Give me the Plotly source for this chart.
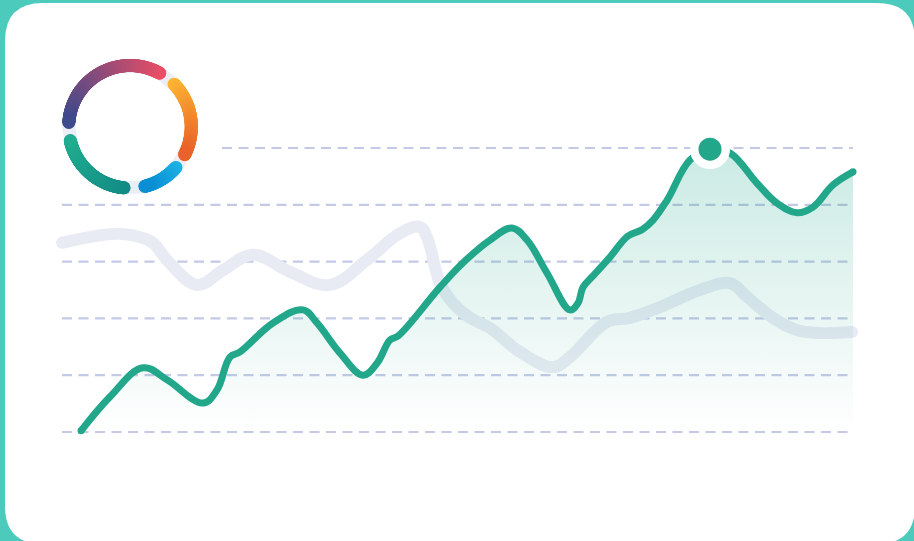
import numpy as np
import plotly.graph_objects as go

# ---------------- data ----------------
green_x = [0.13, 3.88, 8.15, 11.25, 15.91, 17.72, 19.40, 20.70, 24.97, 28.85, 30.66, 33.64,
           36.61, 38.42, 40.10, 41.14, 46.57, 49.55, 53.04, 55.89, 57.83, 60.41, 63.39, 64.42,
           65.07, 66.24, 68.56, 70.89, 72.70, 74.13, 75.94, 78.91, 81.50, 84.09, 87.58, 90.17,
           92.76, 94.83, 97.41, 100.0]
green_y = [0.02, 0.62, 1.13, 0.92, 0.51, 0.74, 1.32, 1.41, 1.92, 2.15, 1.92, 1.39,
           1.00, 1.21, 1.62, 1.69, 2.55, 2.98, 3.38, 3.59, 3.38, 2.80, 2.15, 2.27,
           2.55, 2.73, 3.08, 3.45, 3.56, 3.73, 4.08, 4.79, 4.98, 4.91, 4.38, 4.03,
           3.86, 3.96, 4.35, 4.58]
peak_x = [81.5]
peak_y = [4.98]

gray_x = [-2.33, 4.79, 7.76, 9.44, 11.25, 15.14, 18.50, 22.38, 27.17, 32.34, 37.13, 41.40,
          43.98, 44.89, 46.57, 48.25, 50.45, 53.04, 56.92, 61.19, 63.39, 68.18, 71.15, 75.03,
          80.21, 84.09, 86.29, 89.65, 93.14, 99.87]
gray_y = [3.33, 3.49, 3.43, 3.33, 3.03, 2.59, 2.85, 3.12, 2.82, 2.59, 3.03, 3.50,
          3.61, 3.43, 2.62, 2.27, 2.01, 1.83, 1.41, 1.14, 1.32, 1.94, 2.01, 2.20,
          2.50, 2.62, 2.38, 2.01, 1.78, 1.76]

grid_levels = [0, 1, 2, 3, 4, 5]

donut_from_deg = [61, 44, -41.5, 264.5]
donut_to_deg = [176, -27, -76, 193]
donut_color_from = ['#ef4f65', '#fdb634', '#1fb3e4', '#128b84']
donut_color_to = ['#3e4b8c', '#e9622a', '#0a8ed4', '#21ab8f']

# ---------------- style / layout ----------------
W, H = 914, 541
TEAL_BG = '#4ccbbd'
GREEN = '#22a78b'
GRAY_LINE = '#e8ebf4'
GRID = '#c4c9e6'
SMOOTH = 1.1

X_RANGE = [-10.35, 107.89]
Y_RANGE = [-1.919, 7.606]

fig = go.Figure()

# gray line
fig.add_trace(go.Scatter(x=gray_x, y=gray_y, mode='lines',
                         line=dict(color=GRAY_LINE, width=12, shape='spline', smoothing=SMOOTH),
                         hoverinfo='skip', showlegend=False))
fig.add_trace(go.Scatter(x=[gray_x[0], gray_x[-1]], y=[gray_y[0], gray_y[-1]], mode='markers',
                         marker=dict(color=GRAY_LINE, size=12, line=dict(width=0)),
                         hoverinfo='skip', showlegend=False))

# gradient fill under green line
fig.add_trace(go.Scatter(x=green_x, y=green_y, mode='lines', fill='tozeroy',
                         line=dict(color='rgba(0,0,0,0)', width=0, shape='spline', smoothing=SMOOTH),
                         fillgradient=dict(type='vertical', start=0, stop=5,
                                           colorscale=[[0, 'rgba(34,167,139,0.0)'],
                                                       [1, 'rgba(34,167,139,0.24)']]),
                         hoverinfo='skip', showlegend=False))

# green line
fig.add_trace(go.Scatter(x=green_x, y=green_y, mode='lines',
                         line=dict(color=GREEN, width=7, shape='spline', smoothing=SMOOTH),
                         hoverinfo='skip', showlegend=False))
fig.add_trace(go.Scatter(x=[green_x[0], green_x[-1]], y=[green_y[0], green_y[-1]], mode='markers',
                         marker=dict(color=GREEN, size=7, line=dict(width=0)),
                         hoverinfo='skip', showlegend=False))

# peak marker
fig.add_trace(go.Scatter(x=peak_x, y=peak_y, mode='markers', cliponaxis=False,
                         marker=dict(color=GREEN, size=31.5, line=dict(color='white', width=8.5)),
                         hoverinfo='skip', showlegend=False))

# ---------------- donut ----------------
R = 61.3
RING_W = 13


def hex2rgb(h):
    h = h.lstrip('#')
    return [int(h[i:i + 2], 16) for i in (0, 2, 4)]


t = np.linspace(0, 2 * np.pi, 361)
fig.add_trace(go.Scatter(x=R * np.cos(t), y=R * np.sin(t), mode='lines', xaxis='x2', yaxis='y2',
                         line=dict(color='#eceef5', width=RING_W),
                         hoverinfo='skip', showlegend=False))

for a0, a1, c0, c1 in zip(donut_from_deg, donut_to_deg, donut_color_from, donut_color_to):
    n = int(abs(a1 - a0) * 2) + 2
    ang = np.radians(np.linspace(a0, a1, n))
    f = np.linspace(0, 1, n)
    r0, r1 = np.array(hex2rgb(c0)), np.array(hex2rgb(c1))
    cols = ['rgb(%d,%d,%d)' % tuple((r0 + (r1 - r0) * k).round()) for k in f]
    fig.add_trace(go.Scatter(x=R * np.cos(ang), y=R * np.sin(ang), mode='markers',
                             xaxis='x2', yaxis='y2', cliponaxis=False,
                             marker=dict(color=cols, size=RING_W, line=dict(width=0)),
                             hoverinfo='skip', showlegend=False))

# ---------------- shapes ----------------
def px(x):
    return x / W


def py(y):
    return 1 - y / H


cl, ct, cr, cb, rr = 5, 3, 915, 544, 38
rx, ry = rr / W, rr / H
path = (f"M {px(cl)+rx},{py(ct)} L {px(cr)-rx},{py(ct)} Q {px(cr)},{py(ct)} {px(cr)},{py(ct)-ry} "
        f"L {px(cr)},{py(cb)+ry} Q {px(cr)},{py(cb)} {px(cr)-rx},{py(cb)} "
        f"L {px(cl)+rx},{py(cb)} Q {px(cl)},{py(cb)} {px(cl)},{py(cb)+ry} "
        f"L {px(cl)},{py(ct)-ry} Q {px(cl)},{py(ct)} {px(cl)+rx},{py(ct)} Z")
shapes = [dict(type='path', path=path, xref='paper', yref='paper', fillcolor='white',
               line=dict(width=0), layer='below')]

for lv in grid_levels:
    x_start = 18.37 if lv == 5 else -2.33
    shapes.append(dict(type='line', xref='x', yref='y', x0=x_start, x1=100, y0=lv, y1=lv,
                       line=dict(color=GRID, width=2.2, dash='10px,6.5px'), layer='below'))

fig.update_layout(
    width=W, height=H,
    margin=dict(l=0, r=0, t=0, b=0),
    paper_bgcolor=TEAL_BG,
    plot_bgcolor='rgba(0,0,0,0)',
    shapes=shapes,
    showlegend=False,
    xaxis=dict(range=X_RANGE, domain=[0, 1], visible=False, fixedrange=True),
    yaxis=dict(range=Y_RANGE, domain=[0, 1], visible=False, fixedrange=True),
    xaxis2=dict(range=[-80, 80], domain=[50 / W, 210 / W], visible=False, anchor='y2'),
    yaxis2=dict(range=[-80, 80], domain=[1 - 206.8 / H, 1 - 46.8 / H], visible=False, anchor='x2'),
)

fig.write_html("out.html", config={'displayModeBar': False},
               post_script="document.body.style.margin='0';document.body.style.overflow='hidden';")
